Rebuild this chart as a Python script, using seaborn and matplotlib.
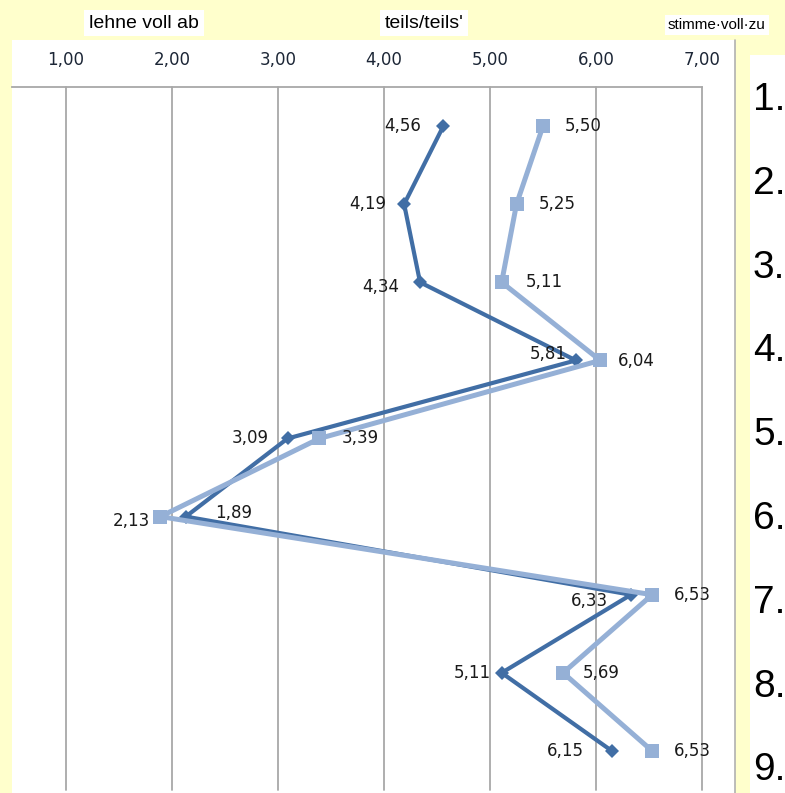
import matplotlib
matplotlib.use("Agg")
import matplotlib.pyplot as plt
import seaborn as sns
import pandas as pd
from matplotlib.patches import Rectangle

# ---- data ----
items = [1, 2, 3, 4, 5, 6, 7, 8, 9]
item_labels = ["1.", "2.", "3.", "4.", "5.", "6.", "7.", "8.", "9."]
dark_values = [4.56, 4.19, 4.34, 5.81, 3.09, 2.13, 6.33, 5.11, 6.15]
light_values = [5.50, 5.25, 5.11, 6.04, 3.39, 1.89, 6.53, 5.69, 6.53]
dark_texts = ["4,56", "4,19", "4,34", "5,81", "3,09", "1,89", "6,33", "5,11", "6,15"]
light_texts = ["5,50", "5,25", "5,11", "6,04", "3,39", "2,13", "6,53", "5,69", "6,53"]
x_ticks = [1, 2, 3, 4, 5, 6, 7]
x_ticklabels = ["1,00", "2,00", "3,00", "4,00", "5,00", "6,00", "7,00"]
header_texts = ["lehne voll ab", "teils/teils'", "stimme\u00b7voll\u00b7zu"]

W, H = 785, 793
BG = "#FFFFCC"
DARK = "#416EA5"
LIGHT = "#95B0D6"
GRID = "#A8A8A8"

sns.set_theme(style="white")
plt.rcParams["font.family"] = ["DejaVu Sans"]

fig = plt.figure(figsize=(W / 100, H / 100), dpi=100, facecolor=BG)


def fx(x):
    return x / W


def fy(y):
    return 1 - y / H


# white chart panel
fig.patches.append(Rectangle((fx(12), fy(793)), fx(735) - fx(12), fy(40) - fy(793),
                             transform=fig.transFigure, facecolor="white", edgecolor="none", zorder=-5))
# right grey border line
fig.add_artist(plt.Line2D([fx(735), fx(735)], [fy(40), fy(793)], transform=fig.transFigure,
                          color="#B0B0B0", lw=1.2, zorder=-4))
# white box for item numbers
fig.patches.append(Rectangle((fx(750), fy(793)), fx(785) - fx(750), fy(55) - fy(793),
                             transform=fig.transFigure, facecolor="white", edgecolor="none", zorder=-5))

# axes: 12..702 px horizontally, 87..790 px vertically
ax = fig.add_axes([fx(12), fy(790), fx(702) - fx(12), fy(87) - fy(790)])
ax.set_zorder(1)
ax.patch.set_alpha(0)

df_dark = pd.DataFrame({"value": dark_values, "item": items})
df_light = pd.DataFrame({"value": light_values, "item": items})

sns.lineplot(data=df_dark, x="value", y="item", sort=False, estimator=None, ax=ax,
             color=DARK, linewidth=3.0, marker="D", markersize=7, markeredgewidth=0, zorder=3)
sns.lineplot(data=df_light, x="value", y="item", sort=False, estimator=None, ax=ax,
             color=LIGHT, linewidth=3.6, marker="s", markersize=9.5, markeredgewidth=0, zorder=4)

ax.set_xlim(1 - 54 / 106, 7)
ax.set_ylim(9.5, 0.5)
ax.set_xlabel("")
ax.set_ylabel("")
ax.set_yticks([])
ax.set_xticks(x_ticks)
ax.set_xticklabels(x_ticklabels, fontsize=12, color="#1C2636")
ax.xaxis.tick_top()
ax.tick_params(axis="x", length=0, pad=13)
ax.grid(axis="x", color=GRID, linewidth=1.3)
ax.grid(axis="y", visible=False)
for s in ["left", "right", "bottom"]:
    ax.spines[s].set_visible(False)
ax.spines["top"].set_color(GRID)
ax.spines["top"].set_linewidth(1.3)
for gl in ax.get_xgridlines():
    gl.set_clip_on(False)

# data labels
txt_col = "#1A1A1A"
dark_off = [(-22, 0, "right"), (-18, 0, "right"), (-21, -5, "right"), (-9, 6, "right"),
            (-19, 0, "right"), (29, 4, "left"), (-23, -6, "right"), (-11, 0, "right"),
            (-28, 0, "right")]
light_off = [(22, 0, "left"), (22, 0, "left"), (24, 0, "left"), (18, -1, "left"),
             (22, 0, "left"), (-10, -4, "right"), (22, 0, "left"), (20, 0, "left"),
             (22, 0, "left")]
for v, it, t, (dx, dy, ha) in zip(dark_values, items, dark_texts, dark_off):
    ax.annotate(t, (v, it), xytext=(dx, dy), textcoords="offset pixels", ha=ha, va="center",
                fontsize=12, color=txt_col, zorder=6)
for v, it, t, (dx, dy, ha) in zip(light_values, items, light_texts, light_off):
    ax.annotate(t, (v, it), xytext=(dx, dy), textcoords="offset pixels", ha=ha, va="center",
                fontsize=12, color=txt_col, zorder=6)

# header boxes
narrow = ["Liberation Sans Narrow", "Liberation Sans", "DejaVu Sans"]
fig.text(fx(144), fy(23), header_texts[0], ha="center", va="center", fontsize=14,
         family=narrow, color="black",
         bbox=dict(boxstyle="square,pad=0.25", facecolor="white", edgecolor="none"))
fig.text(fx(424), fy(23), header_texts[1], ha="center", va="center", fontsize=14,
         family=narrow, color="black",
         bbox=dict(boxstyle="square,pad=0.25", facecolor="white", edgecolor="none"))
fig.text(fx(668), fy(25), header_texts[2], ha="left", va="center", fontsize=11,
         family=narrow, color="black",
         bbox=dict(boxstyle="square,pad=0.2", facecolor="white", edgecolor="none"))

# item numbers on the right
for i, lab in enumerate(item_labels):
    fig.text(fx(753), fy(100 + i * 83.8), lab, ha="left", va="center", fontsize=28,
             family=narrow, color="black")

fig.savefig("out.png", dpi=100, facecolor=BG)
